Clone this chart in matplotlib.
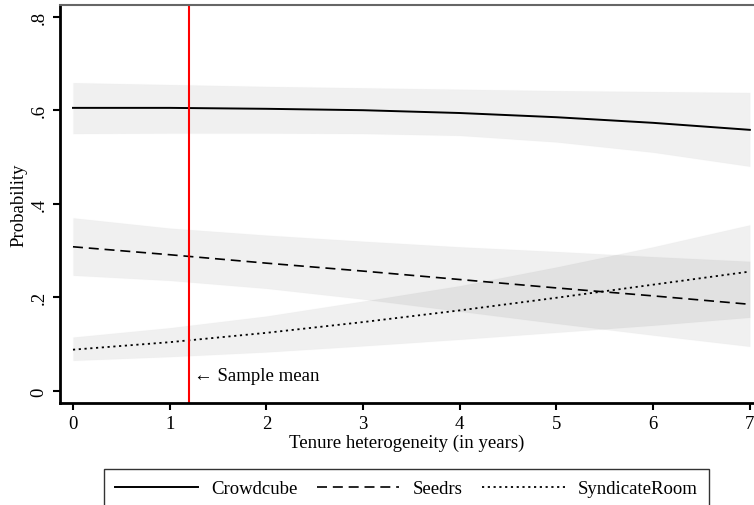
import matplotlib
matplotlib.use("Agg")
import matplotlib.pyplot as plt
import numpy as np

plt.rcParams['font.family'] = ['Liberation Serif', 'DejaVu Serif']

# tenure heterogeneity grid
tenure = [0, 1, 2, 3, 4, 5, 6, 7]

# predicted probabilities and confidence bands
crowdcube = [0.605, 0.605, 0.603, 0.600, 0.594, 0.585, 0.573, 0.558]
crowdcube_hi = [0.659, 0.655, 0.651, 0.648, 0.645, 0.642, 0.640, 0.638]
crowdcube_lo = [0.550, 0.551, 0.551, 0.550, 0.546, 0.532, 0.510, 0.480]

seedrs = [0.308, 0.291, 0.273, 0.256, 0.238, 0.220, 0.203, 0.185]
seedrs_hi = [0.370, 0.348, 0.333, 0.320, 0.308, 0.298, 0.287, 0.277]
seedrs_lo = [0.247, 0.236, 0.219, 0.196, 0.170, 0.144, 0.119, 0.095]

syndicate = [0.088, 0.104, 0.124, 0.147, 0.172, 0.199, 0.227, 0.255]
syndicate_hi = [0.115, 0.135, 0.160, 0.192, 0.225, 0.265, 0.308, 0.355]
syndicate_lo = [0.065, 0.073, 0.083, 0.096, 0.110, 0.125, 0.140, 0.157]

sample_mean = 1.2

FS = 13.5

fig = plt.figure(figsize=(7.54, 5.06), dpi=100)
ax = fig.add_axes([0.0796, 0.2016, 0.92, 0.7866])

# confidence bands
for lo, hi in [(crowdcube_lo, crowdcube_hi), (seedrs_lo, seedrs_hi), (syndicate_lo, syndicate_hi)]:
    ax.fill_between(tenure, lo, hi, facecolor='black', alpha=0.06,
                    edgecolor=(0.85, 0.85, 0.85, 0.5), linewidth=0.8)

ax.plot(tenure, crowdcube, color='black', lw=1.4, ls='-', label='Crowdcube')
ax.plot(tenure, seedrs, color='black', lw=1.2, ls=(0, (6, 3.5)), label='Seedrs')
ax.plot(tenure, syndicate, color='black', lw=1.3, ls=(0, (1.2, 2.0)), label='SyndicateRoom')

ax.axvline(sample_mean, color='red', lw=1.5)
ax.text(sample_mean + 0.05, 0.033, '\u2190 Sample mean', fontsize=FS, va='center', ha='left')

ax.set_xlim(-0.134, 7.04)
ax.set_ylim(-0.026, 0.825)
ax.set_xticks(range(0, 8))
ax.set_yticks([0, 0.2, 0.4, 0.6, 0.8])
ax.set_yticklabels(['0', '.2', '.4', '.6', '.8'], rotation=90, va='center')
ax.tick_params(labelsize=FS, length=5, width=1.5, direction='out', pad=4)
ax.set_xlabel('Tenure heterogeneity (in years)', fontsize=FS, labelpad=1)
ax.set_ylabel('Probability', fontsize=FS, labelpad=2)

ax.spines['left'].set_linewidth(2)
ax.spines['bottom'].set_linewidth(2)
ax.spines['top'].set_color('#666666')
ax.spines['top'].set_linewidth(1.5)
ax.spines['right'].set_visible(False)

# legend box runs off the bottom edge as in the original
leg = fig.legend(loc='upper left', bbox_to_anchor=(0.138, -0.029, 0.802, 0.1), mode='expand',
                 ncol=3, fontsize=FS, frameon=True, fancybox=False, edgecolor='black',
                 handlelength=4.4, handletextpad=0.7, borderaxespad=0, borderpad=0.6)
leg.get_frame().set_linewidth(1.0)

fig.savefig('out.png', dpi=100)
